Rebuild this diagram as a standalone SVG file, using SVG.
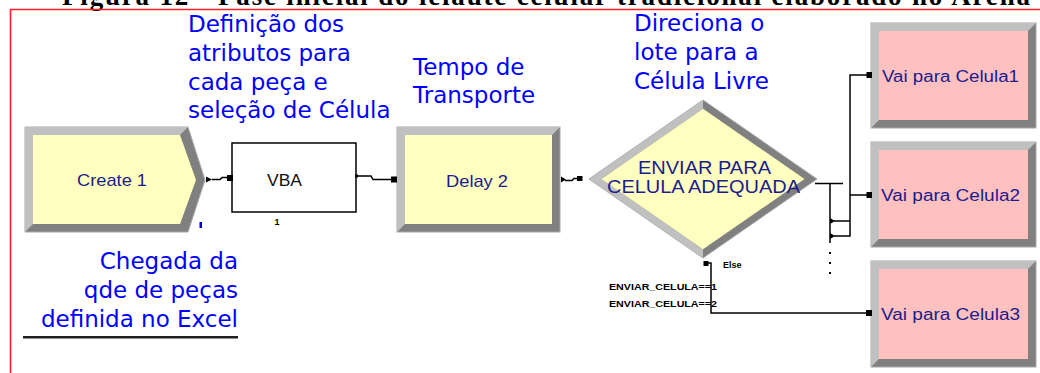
<svg xmlns="http://www.w3.org/2000/svg" width="1040" height="373" viewBox="0 0 1040 373">
<style>
.lt{fill:#c0c0c0}
.dk{fill:#808080;stroke:#a8a8a8;stroke-width:1}
.yel{fill:#ffffc0}
.pink{fill:#ffc0c0}
.lbl{font-family:"Liberation Sans",Arial,sans-serif;font-size:17px;fill:#1c1c8c}
.ann{font-family:"DejaVu Sans",Verdana,sans-serif;font-size:23px;fill:#0000ff}
.wire{stroke:#000;stroke-width:1.5;fill:none}
.sm{font-family:"Liberation Sans",Arial,sans-serif;font-size:9px;font-weight:bold;fill:#000}
</style>
<rect width="1040" height="373" fill="#fff"/>
<text x="62" y="5" font-family="'Liberation Serif','Times New Roman',serif" font-weight="bold" font-size="27" textLength="968" lengthAdjust="spacing" fill="#000">Figura 12 - Fase inicial do leiaute celular tradicional elaborado no Arena</text>
<path d="M10.5,373 V9.5 H1045" stroke="#ff2020" stroke-width="1.6" fill="none"/>

<g id="annotations">
<text class="ann"><tspan x="188" y="32">Definição dos</tspan><tspan x="188" y="61">atributos para</tspan><tspan x="188" y="90">cada peça e</tspan><tspan x="188" y="118">seleção de Célula</tspan></text>
<text class="ann"><tspan x="413" y="75">Tempo de</tspan><tspan x="413" y="103">Transporte</tspan></text>
<text class="ann"><tspan x="634" y="31">Direciona o</tspan><tspan x="634" y="60">lote para a</tspan><tspan x="634" y="89">Célula Livre</tspan></text>
<text class="ann" text-anchor="end"><tspan x="238" y="269">Chegada da</tspan><tspan x="238" y="298">qde de peças</tspan><tspan x="238" y="327">definida no Excel</tspan></text>
<rect x="23" y="336" width="215" height="2" fill="#202020"/>
<rect x="23" y="338" width="215" height="1" fill="#909090"/>
</g>

<g id="create1">
<polygon class="dk" points="25,127 188,127 205,180 188,232 25,232"/>
<polygon class="lt" points="25,127 188,127 180,135 33,135 33,224 25,232"/>
<polygon class="yel" points="33,135 180,135 196,180 180,224 33,224"/>
<text class="lbl" x="112" y="186" text-anchor="middle" textLength="70" lengthAdjust="spacingAndGlyphs">Create 1</text>
<rect x="199.5" y="222" width="2.5" height="6" fill="#0000c0"/>
</g>

<g id="vba">
<rect x="232" y="143" width="124" height="69" fill="#fff" stroke="#000" stroke-width="1.5"/>
<text class="lbl" x="284.5" y="186" text-anchor="middle" style="fill:#111" textLength="35" lengthAdjust="spacingAndGlyphs">VBA</text>
<text x="277" y="225" text-anchor="middle" font-family="'Liberation Sans',Arial,sans-serif" font-size="9" font-weight="bold" fill="#000">1</text>
</g>

<g id="delay2">
<rect class="dk" x="397" y="127" width="163" height="105"/>
<polygon class="lt" points="397,127 560,127 552,135 405,135 405,224 397,232"/>
<rect class="yel" x="405" y="135" width="147" height="89"/>
<text class="lbl" x="477" y="187" text-anchor="middle" textLength="62" lengthAdjust="spacingAndGlyphs">Delay 2</text>
</g>

<g id="decide">
<polygon class="dk" points="589,179 703,100 817,179 703,258"/>
<polygon class="lt" points="589,179 703,100 703,108.7 601.5,179"/>
<polygon class="lt" points="589,179 601.5,179 703,249.3 703,258"/>
<polygon class="yel" points="601.5,179 703,108.7 804.5,179 703,249.3"/>
<text class="lbl" x="704.5" y="174" text-anchor="middle" style="font-size:19px" textLength="133" lengthAdjust="spacingAndGlyphs">ENVIAR PARA</text>
<text class="lbl" x="703.5" y="193" text-anchor="middle" style="font-size:19px" textLength="193" lengthAdjust="spacingAndGlyphs">CELULA ADEQUADA</text>
</g>

<g id="celula1">
<rect class="dk" x="871" y="23" width="165" height="105"/>
<polygon class="lt" points="871,23 1036,23 1028,31 879,31 879,120 871,128"/>
<rect class="pink" x="879" y="31" width="149" height="89"/>
<text class="lbl" x="882" y="82" style="font-size:16px" textLength="137" lengthAdjust="spacingAndGlyphs">Vai para Celula1</text>
</g>

<g id="celula2">
<rect class="dk" x="871" y="142" width="165" height="105"/>
<polygon class="lt" points="871,142 1036,142 1028,150 879,150 879,239 871,247"/>
<rect class="pink" x="879" y="150" width="149" height="89"/>
<text class="lbl" x="881" y="201" style="font-size:16px" textLength="139" lengthAdjust="spacingAndGlyphs">Vai para Celula2</text>
</g>

<g id="celula3">
<rect class="dk" x="871" y="261" width="165" height="106"/>
<polygon class="lt" points="871,261 1036,261 1028,269 879,269 879,359 871,367"/>
<rect class="pink" x="879" y="269" width="149" height="90"/>
<text class="lbl" x="881" y="320" style="font-size:16px" textLength="139" lengthAdjust="spacingAndGlyphs">Vai para Celula3</text>
</g>

<g id="connectors">
<polygon points="206,176.5 212,179.5 206,182.5" fill="#000"/>
<path class="wire" d="M212,179.5 H220 L222,177.5 H228"/>
<rect x="227" y="175" width="6" height="6" fill="#000"/>
<rect x="355" y="174.5" width="3" height="3" fill="#000"/>
<path class="wire" d="M357,176 H371 L373,179.5 H392"/>
<rect x="391" y="176.5" width="6" height="6" fill="#000"/>
<polygon points="561,176.5 566,179.5 561,182.5" fill="#000"/>
<path class="wire" d="M565,180.5 H572 L574,178.5 H578"/>
<rect x="577" y="176" width="5.5" height="5" fill="#000"/>
<path class="wire" d="M815,183.5 H843 M830,183.5 V243"/>
<polygon points="830,218 835,221 830,224" fill="#000"/>
<polygon points="830,233 835,236 830,239" fill="#000"/>
<path class="wire" d="M834,221 H850 M834,236 H850 V75 H868 M850,195 H868"/>
<rect x="866.5" y="72" width="5.5" height="6" fill="#000"/>
<rect x="866.5" y="192" width="5.5" height="6" fill="#000"/>
<rect x="829" y="252" width="2" height="2" fill="#000"/>
<rect x="829" y="262" width="2" height="2" fill="#000"/>
<rect x="829" y="272" width="2" height="2" fill="#000"/>
<rect x="703.5" y="261" width="5" height="5" fill="#000"/>
<path class="wire" d="M706,263 H711 V313 H868"/>
<rect x="866" y="310" width="6" height="6" fill="#000"/>
<text class="sm" x="723" y="268">Else</text>
<text class="sm" x="609" y="290" textLength="108" lengthAdjust="spacingAndGlyphs">ENVIAR_CELULA==1</text>
<text class="sm" x="609" y="307" textLength="108" lengthAdjust="spacingAndGlyphs">ENVIAR_CELULA==2</text>
</g>
</svg>
